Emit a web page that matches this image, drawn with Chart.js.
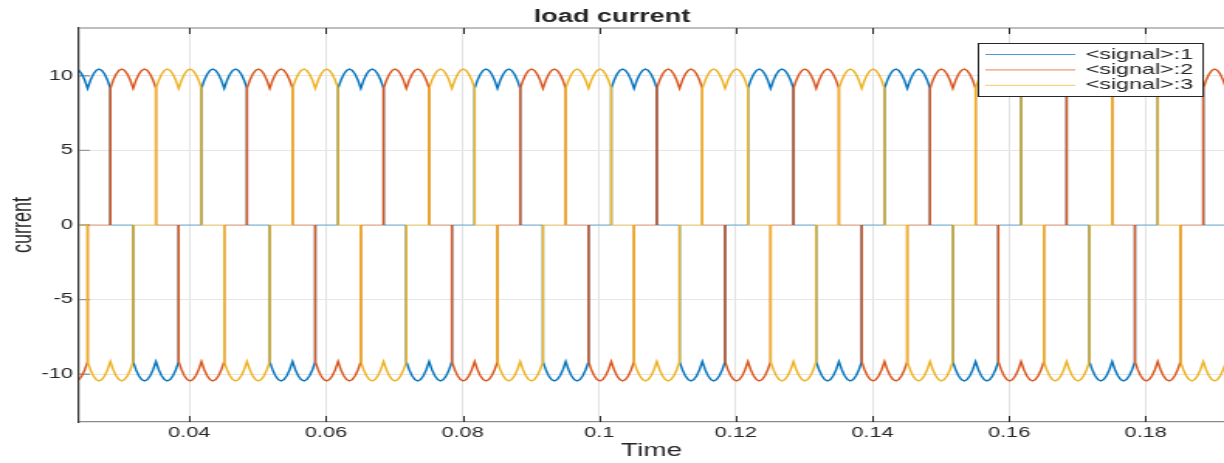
<!DOCTYPE html>
<html>
<head>
<meta charset="utf-8">
<title>load current</title>
<script src="https://cdn.jsdelivr.net/npm/chart.js@4/dist/chart.umd.min.js"></script>
<style>
  html, body { margin: 0; padding: 0; background: #fff; }
  canvas { display: block; }
</style>
</head>
<body>
<!-- The reference is a MATLAB figure stretched sideways, so draw narrow and widen the canvas.
     Inline style, otherwise Chart.js writes its own width. -->
<canvas id="chart" width="790" height="463" style="width:1224px;height:463px"></canvas>
<script>
const seriesNames = ['<signal>:1', '<signal>:2', '<signal>:3'];
const seriesColors = ['#0072bd', '#d95319', '#edb120'];
const zeroColors = ['rgba(0,114,189,0.4)', 'rgba(217,83,25,0.4)', 'rgba(237,177,32,0.45)'];

// State of each signal in every 60-degree slot: + positive, - negative, 0 off.
const slotStates = [
  '++0--0++0--0++0--0++0--0++0--0++0--0++0--0++0--0++0',
  '-0++0--0++0--0++0--0++0--0++0--0++0--0++0--0++0--0+',
  '0--0++0--0++0--0++0--0++0--0++0--0++0--0++0--0++0--'
];
const slotStart = 0.02177;   // first slot edge, just left of the axes
const slotWidth = 0.003333;  // one ripple hump

// One ripple hump, cusp to cusp.
const ripple = [9.15, 9.7, 10.1, 10.36, 10.45, 10.36, 10.1, 9.7, 9.15];

const xTicks = [0.04, 0.06, 0.08, 0.1, 0.12, 0.14, 0.16, 0.18];
const xTickLabels = ['0.04', '0.06', '0.08', '0.1', '0.12', '0.14', '0.16', '0.18'];
const yTicks = [-10, -5, 0, 5, 10];
const xMin = 0.02385, xMax = 0.19146;
const yMin = -13.2, yMax = 13.2;

const FONT = '"Liberation Sans", Arial, sans-serif';
const INK = '#262626';

function buildSeries(states) {
  const pts = [];
  for (let k = 0; k < states.length; k++) {
    const t0 = slotStart + k * slotWidth;
    const s = states[k] === '+' ? 1 : states[k] === '-' ? -1 : 0;
    if (s === 0) {
      pts.push({ x: t0, y: 0 }, { x: t0 + slotWidth, y: 0 });
    } else {
      ripple.forEach((v, i) => pts.push({ x: t0 + slotWidth * i / (ripple.length - 1), y: s * v }));
    }
  }
  return pts;
}

// Inward tick marks and the top box edge, MATLAB style.
const matlabAxes = {
  id: 'matlabAxes',
  beforeDatasetsDraw(chart) {
    const { ctx, chartArea: a, scales: { x, y } } = chart;
    ctx.save();
    ctx.strokeStyle = '#a8a8a8';
    ctx.lineWidth = 1.4;
    ctx.beginPath();
    ctx.moveTo(a.left, a.top);
    ctx.lineTo(a.right, a.top);
    ctx.stroke();

    ctx.strokeStyle = INK;
    ctx.lineWidth = 1;
    ctx.beginPath();
    for (const v of xTicks) {
      const px = Math.round(x.getPixelForValue(v)) + 0.5;
      ctx.moveTo(px, a.bottom); ctx.lineTo(px, a.bottom - 6);
      ctx.moveTo(px, a.top); ctx.lineTo(px, a.top + 6);
    }
    ctx.stroke();

    ctx.strokeStyle = '#9a9a9a';
    ctx.lineWidth = 1.4;
    ctx.beginPath();
    for (const v of yTicks) {
      const py = y.getPixelForValue(v);
      ctx.moveTo(a.left, py); ctx.lineTo(a.left + 7, py);
    }
    ctx.stroke();
    ctx.restore();
  }
};

// Boxed legend in the upper right, line sample left of the text.
const signalLegend = {
  id: 'signalLegend',
  afterDraw(chart) {
    const ctx = chart.ctx;
    const bx = 631, by = 43, bw = 145, bh = 53;
    ctx.save();
    ctx.fillStyle = '#fff';
    ctx.fillRect(bx, by, bw, bh);
    ctx.strokeStyle = INK;
    ctx.lineWidth = 1;
    ctx.strokeRect(bx + 0.5, by + 0.5, bw, bh);
    ctx.font = '15px ' + FONT;
    ctx.textAlign = 'right';
    ctx.textBaseline = 'middle';
    seriesNames.forEach((name, i) => {
      const ry = by + 11.5 + i * 15.4;
      ctx.strokeStyle = seriesColors[i];
      ctx.globalAlpha = 0.7;
      ctx.beginPath();
      ctx.moveTo(636, ry); ctx.lineTo(694, ry);
      ctx.stroke();
      ctx.globalAlpha = 1;
      ctx.fillStyle = INK;
      ctx.fillText(name, 770, ry);
    });
    ctx.restore();
  }
};

new Chart(document.getElementById('chart'), {
  type: 'line',
  data: {
    datasets: seriesNames.map((name, i) => ({
      label: name,
      data: buildSeries(slotStates[i]),
      borderColor: seriesColors[i],
      borderWidth: 1.4,
      pointRadius: 0,
      tension: 0,
      order: 3 - i, // later signals drawn on top
      segment: {
        borderColor: c => (c.p0.parsed.y === 0 && c.p1.parsed.y === 0) ? zeroColors[i] : undefined
      }
    }))
  },
  options: {
    responsive: false,
    animation: false,
    devicePixelRatio: 1,
    layout: { padding: 0 },
    plugins: {
      legend: { display: false },
      tooltip: { enabled: false },
      title: {
        display: true,
        text: 'load current',
        color: INK,
        font: { family: FONT, size: 17.5, weight: 'bold' },
        padding: { top: 7, bottom: 0 }
      }
    },
    scales: {
      x: {
        type: 'linear',
        min: xMin,
        max: xMax,
        afterBuildTicks: s => { s.ticks = xTicks.map(v => ({ value: v })); },
        afterFit: s => { s.height = 41; },
        ticks: {
          autoSkip: false,
          maxRotation: 0,
          padding: 3,
          color: INK,
          font: { family: FONT, size: 14 },
          callback: (v, i) => xTickLabels[i]
        },
        grid: { color: '#e2e2e2', lineWidth: 1, drawTicks: false },
        border: { color: '#8c8c8c', width: 1.3 },
        title: {
          display: true,
          text: 'Time',
          color: INK,
          font: { family: FONT, size: 18 },
          padding: { top: 0, bottom: 1 }
        }
      },
      y: {
        type: 'linear',
        min: yMin,
        max: yMax,
        afterBuildTicks: s => { s.ticks = yTicks.map(v => ({ value: v })); },
        afterFit: s => { s.width = 51; },
        ticks: {
          padding: 4,
          color: INK,
          font: { family: FONT, size: 14 }
        },
        grid: { color: '#e6e6e6', lineWidth: 1, drawTicks: false },
        border: { color: '#333', width: 1.2 },
        title: {
          display: true,
          text: 'current',
          color: INK,
          font: { family: FONT, size: 18 },
          padding: { top: 4, bottom: 0 }
        }
      }
    }
  },
  plugins: [matlabAxes, signalLegend]
});
</script>
</body>
</html>
